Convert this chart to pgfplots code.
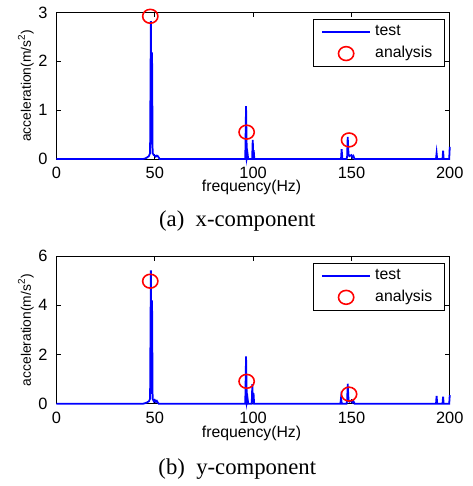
\documentclass[border=0pt]{standalone}
\usepackage{fontspec}
\setmainfont{Liberation Serif}
\setsansfont{Liberation Sans}
\usepackage{pgfplots}
\pgfplotsset{compat=1.18}

\pgfplotsset{
  spec/.style={
    scale only axis, width=198.5bp,
    xmin=0, xmax=200, xtick={0,50,100,150,200},
    clip=false,
    axis line style={line width=0.5bp},
    tick style={line width=0.5bp, black},
    tick align=inside, major tick length=2.5bp,
    /pgf/number format/assume math mode=true,
    tick label style={font=\fontsize{8.3}{9}\selectfont\sffamily},
    xticklabel style={yshift=-0.5bp},
    yticklabel style={xshift=-1bp},
    xlabel={frequency(Hz)},
    ylabel={acceleration(m/s\textsuperscript{2})},
    xlabel style={font=\fontsize{8}{9}\selectfont\sffamily, anchor=center},
    ylabel style={font=\fontsize{7}{8}\selectfont\sffamily, anchor=center,
      at={(axis description cs:-0.078,0.5)}},
    legend cell align=left,
    legend style={anchor=north east, draw=black, line width=0.5bp,
      font=\fontsize{8}{9}\selectfont\sffamily,
      inner xsep=4bp, inner ysep=0.8bp, row sep=0bp},
  },
  testline/.style={color=blue, line width=0.9bp, mark=none,
    legend image code/.code={\draw[##1] (0bp,0bp) -- (24.5bp,0bp);}},
  anal/.style={color=red, only marks, mark=o, mark size=3.5bp,
    mark options={line width=0.8bp, xscale=1.1},
    legend image code/.code={\draw[##1] plot coordinates {(12.25bp,0bp)};}},
}

\begin{document}
\begin{tikzpicture}
\path (0bp,0bp) rectangle (238.5bp,-243bp);

% (a) x-component
\begin{axis}[spec, at={(28.5bp,-79.5bp)}, anchor=south west, height=74bp,
    ymin=0, ymax=3, ytick={0,1,2,3},
    xlabel style={at={(axis description cs:0.496,-0.196)}},
    legend style={at={(axis description cs:0.987,0.953)}}]
  \addplot[testline] coordinates {
    (0,0) (44,0) (45,0.01) (46,0.03) (47,0.06) (47.6,0.12)
    (48,2.82) (48.3,0.3) (48.6,2.18) (48.9,0.12) (49.5,0.08) (50,0.07)
    (50.5,0.05) (51,0.07) (51.5,0.06) (52,0.03) (52.5,0)
    (96,0) (96.4,1.08) (96.8,0.02) (97.2,0.1) (97.5,0)
    (99.5,0) (99.8,0.39) (100.1,0.05) (100.3,0.18) (100.6,0)
    (144.7,0) (145,0.2) (145.4,0) (147.5,0) (147.8,0.05) (148.1,0.45)
    (148.5,0.1) (149,0.06) (150,0.08) (150.5,0.03) (151,0.06) (151.6,0)
    (193,0) (193.3,0.12) (193.6,0) (196.3,0) (196.6,0.17) (196.9,0)
    (199.7,0) (200,0.25)
  };
  \addplot[anal] coordinates {(47.7,2.92) (96.7,0.55) (148.8,0.39)};
  \legend{test, analysis}
\end{axis}
\node[font=\fontsize{11.5}{13}\selectfont] at (119.75bp,-111bp) {(a)\ \ x-component};

% (b) y-component
\begin{axis}[spec, at={(28.5bp,-203bp)}, anchor=south west, height=74.5bp,
    ymin=0, ymax=6, ytick={0,2,4,6},
    xlabel style={at={(axis description cs:0.496,-0.201)}},
    legend style={at={(axis description cs:0.987,0.953)}}]
  \addplot[testline] coordinates {
    (0,0) (44,0) (45,0.02) (46,0.05) (47,0.1) (47.6,0.2)
    (48,5.42) (48.3,0.4) (48.6,4.2) (48.9,0.2) (49.5,0.1) (50,0.15)
    (50.5,0.08) (51,0.12) (51.5,0.05) (52,0)
    (96,0) (96.4,1.92) (96.8,0.05) (97.2,0.2) (97.5,0)
    (99.3,0) (99.6,0.8) (99.9,0.05) (100.2,0.43) (100.5,0)
    (144.4,0) (144.7,0.23) (145.1,0) (147.5,0) (147.8,0.1) (148.1,0.81)
    (148.5,0.15) (149,0.08) (150,0.12) (150.5,0.05) (151,0.1) (151.6,0)
    (193,0) (193.3,0.32) (193.6,0) (196.3,0) (196.6,0.28) (196.9,0)
    (199.7,0) (200,0.35)
  };
  \addplot[anal] coordinates {(47.7,4.98) (96.7,0.91) (148.8,0.39)};
  \legend{test, analysis}
\end{axis}
\node[font=\fontsize{11.5}{13}\selectfont] at (119.75bp,-236bp) {(b)\ \ y-component};
\end{tikzpicture}
\end{document}
